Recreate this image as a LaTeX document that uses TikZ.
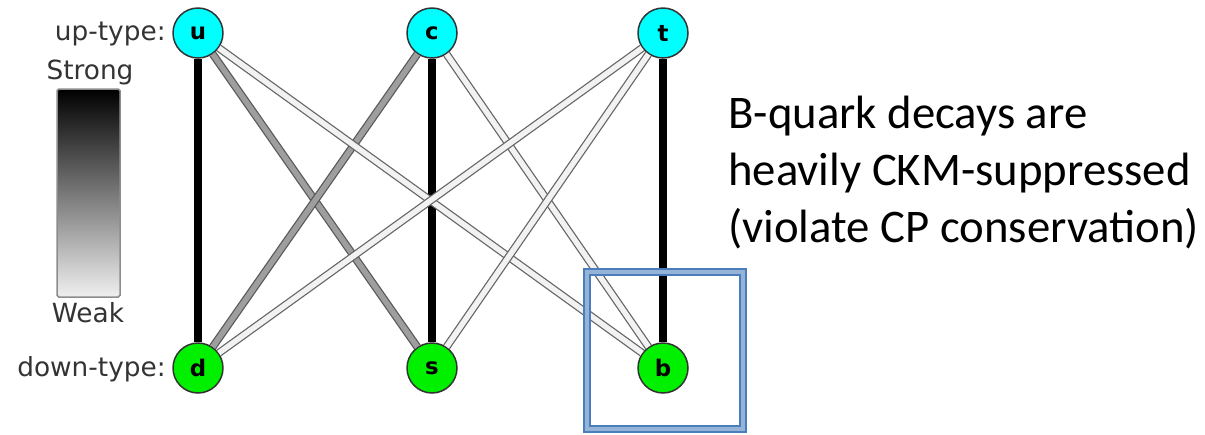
\documentclass[tikz,border=0pt]{standalone}
\usepackage{fontspec}
\setmainfont{Carlito}
\newfontfamily\tagfont{DejaVu Sans}
\definecolor{upq}{HTML}{00FFFF}
\definecolor{downq}{HTML}{00F000}
\definecolor{frameblue}{HTML}{4A7EBB}
\definecolor{frameinner}{HTML}{95B3D7}
\tikzset{
   quark/.style={draw=black!80, line width=0.03cm, circle, minimum size=1cm, inner sep=0pt,
      font=\tagfont\bfseries\fontsize{13}{13}\selectfont},
   strong/.style={draw=black, line width=0.16cm},
   medium/.style={draw=black!65, line width=0.025cm, double=black!38, double distance=0.11cm},
   weak/.style={draw=black!60, line width=0.025cm, double=black!5, double distance=0.11cm},
   tag/.style={font=\tagfont\fontsize{15}{15}\selectfont, text=black!80, inner sep=0pt},
   hilite/.style={draw=frameblue, line width=0.04cm, double=frameinner, double distance=0.08cm,
      minimum width=3.12cm, minimum height=3.14cm, inner sep=0pt}
}
\begin{document}
\begin{tikzpicture}[x=0.02cm, y=-0.02cm]
      \useasboundingbox (0,0) rectangle (1205,434);
      \def \Quarks {
         u/198/33/upq,
         c/432/33/upq,
         t/663/33/upq,
         d/198/368/downq,
         s/432/368/downq,
         b/663/368/downq}
      \def \Edges {
         u/d/strong, c/s/strong, t/b/strong,
         u/s/medium, c/d/medium,
         u/b/weak, c/b/weak, t/d/weak, t/s/weak}
      \foreach \u / \x / \y / \c in \Quarks {
         \node[quark, fill=\c] (\u) at (\x, \y) {\u};
      }
      \foreach \u / \v / \w in \Edges {
         \path[\w] (\u) -- (\v);
      }
      % legend
      \node[tag, anchor=base east] (uplabel) at (166, 40) {up-type:};
      \node[tag, anchor=base east] (downlabel) at (166, 376) {down-type:};
      \shade[top color=black, bottom color=white!94!black, draw=black!45, line width=0.03cm,
         rounded corners=1pt] (57, 89) rectangle (120, 297);
      \node[tag, anchor=base] (strongtag) at (90, 79) {Strong};
      \node[tag, anchor=base] (weaktag) at (88, 322) {Weak};
      % note
      \node[anchor=base west, align=left, inner sep=0pt, font=\fontsize{26.6}{32.4}\selectfont]
         (note) at (728, 242) {B-quark decays are\\heavily CKM-suppressed\\(violate CP conservation)};
      \node[hilite] (box) at (665, 350.5) {};
   \end{tikzpicture}
\end{document}
